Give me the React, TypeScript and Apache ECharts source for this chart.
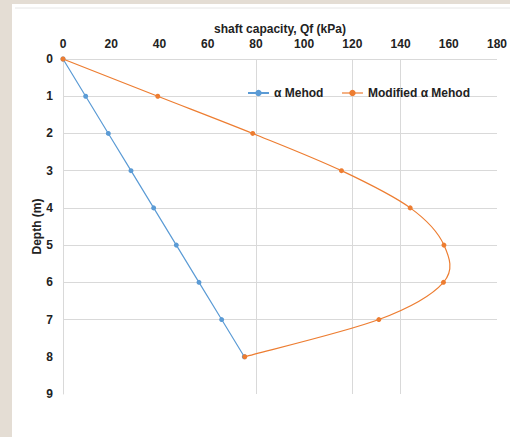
import React, { useEffect, useRef } from "react";
import * as echarts from "echarts";

const depths = [0, 1, 2, 3, 4, 5, 6, 7, 8];
const alphaMethod = [0, 9.4, 18.8, 28.2, 37.6, 47, 56.4, 65.8, 75.2];
const modifiedAlphaMethod = [0, 39.3, 78.7, 115.5, 144, 158, 157.8, 131, 75.4];
const seriesNames = ["α Mehod", "Modified α Mehod"];

const GRID = "#d9d9d9";
const T = "rgba(0,0,0,0)";
const FONT = "'Liberation Sans', Arial, sans-serif";
const BLUE = "#5b9bd5";
const ORANGE = "#ed7d31";

export default function App() {
  const ref = useRef<HTMLDivElement>(null);
  useEffect(() => {
    if (!ref.current) return;
    const chart = echarts.init(ref.current, undefined, { renderer: "svg" });
    const modPts = depths.map((d, i) => [modifiedAlphaMethod[i], d]);
    chart.setOption({
      animation: false,
      textStyle: { fontFamily: FONT },
      grid: { left: 63, right: 13, top: 59, bottom: 43 },
      graphic: [
        {
          type: "line",
          shape: { x1: 15, y1: 8, x2: 510, y2: 8 },
          style: { stroke: "#e6e6e6", lineWidth: 1 },
        },
      ],
      legend: {
        left: 242,
        top: 82,
        itemWidth: 21,
        itemHeight: 8,
        itemGap: 18,
        textStyle: { fontFamily: FONT, fontWeight: "bold", fontSize: 12, color: "#222" },
        data: [
          { name: seriesNames[0] },
          { name: seriesNames[1], lineStyle: { color: ORANGE, width: 1.2, opacity: 1 } },
        ],
      },
      xAxis: {
        type: "value",
        position: "top",
        min: 0,
        max: 180,
        interval: 20,
        name: "shaft capacity, Qf (kPa)",
        nameLocation: "middle",
        nameGap: 24,
        nameMoveOverlap: false,
        nameTextStyle: { fontFamily: FONT, fontWeight: "bold", fontSize: 12, color: "#222" },
        axisLine: { show: false },
        axisTick: { show: false },
        axisLabel: { fontFamily: FONT, fontWeight: "bold", fontSize: 12, color: "#222", margin: 9 },
        splitLine: {
          show: true,
          lineStyle: { color: [T, T, T, T, GRID, T, GRID, GRID, T, T], width: 1 },
        },
      },
      yAxis: {
        type: "value",
        inverse: true,
        min: 0,
        max: 9,
        interval: 1,
        name: "Depth (m)",
        nameLocation: "middle",
        nameGap: 20,
        nameMoveOverlap: false,
        nameRotate: 90,
        nameTextStyle: { fontFamily: FONT, fontWeight: "bold", fontSize: 12, color: "#222" },
        axisLine: { show: true, lineStyle: { color: GRID, width: 1 } },
        axisTick: { show: false },
        axisLabel: { fontFamily: FONT, fontWeight: "bold", fontSize: 12, color: "#222", margin: 10 },
        splitLine: {
          show: true,
          lineStyle: { color: [GRID, GRID, GRID, GRID, GRID, GRID, GRID, GRID, T, T], width: 1 },
        },
      },
      series: [
        {
          name: seriesNames[0],
          type: "line",
          data: depths.map((d, i) => [alphaMethod[i], d]),
          symbol: "circle",
          symbolSize: 5,
          z: 3,
          itemStyle: { color: BLUE },
          lineStyle: { color: BLUE, width: 1.2 },
        },
        {
          name: seriesNames[1],
          type: "line",
          data: modPts,
          symbol: "circle",
          symbolSize: 5,
          z: 3,
          itemStyle: { color: ORANGE },
          lineStyle: { color: ORANGE, width: 0, opacity: 0 },
        },
        {
          name: "modified-curve",
          type: "custom",
          data: modPts,
          encode: { x: 0, y: 1 },
          z: 2,
          silent: true,
          renderItem: (params: any, api: any) => {
            const i = params.dataIndex;
            const n = modPts.length;
            if (i >= n - 1) return null;
            const P = (k: number) => api.coord(modPts[Math.max(0, Math.min(n - 1, k))]);
            const p0 = P(i - 1);
            const p1 = P(i);
            const p2 = P(i + 1);
            const p3 = P(i + 2);
            const t = 1 / 6;
            return {
              type: "bezierCurve",
              shape: {
                x1: p1[0],
                y1: p1[1],
                x2: p2[0],
                y2: p2[1],
                cpx1: p1[0] + (p2[0] - p0[0]) * t,
                cpy1: p1[1] + (p2[1] - p0[1]) * t,
                cpx2: p2[0] - (p3[0] - p1[0]) * t,
                cpy2: p2[1] - (p3[1] - p1[1]) * t,
              },
              style: { stroke: ORANGE, lineWidth: 1.2, fill: null },
            };
          },
        },
      ],
    });
    return () => chart.dispose();
  }, []);
  return (
    <div
      style={{
        position: "fixed",
        left: 0,
        top: 0,
        width: 510,
        height: 437,
        background: "#e4ddd4",
      }}
    >
      <div
        style={{
          position: "absolute",
          left: 12,
          top: 4,
          width: 498,
          height: 433,
          background: "#ffffff",
        }}
      />
      <div ref={ref} style={{ position: "absolute", left: 0, top: 0, width: 510, height: 437 }} />
    </div>
  );
}
